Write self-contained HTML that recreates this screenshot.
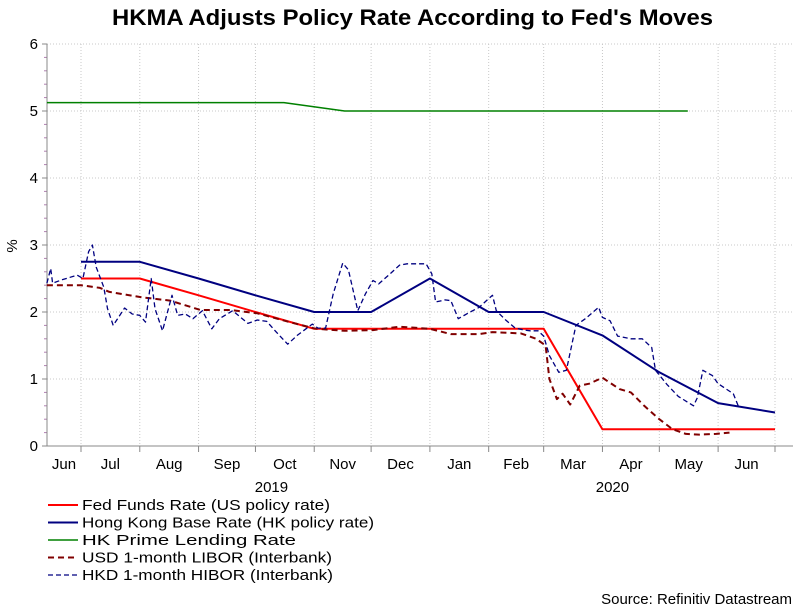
<!DOCTYPE html>
<html><head><meta charset="utf-8"><style>
body{margin:0;background:#fff;width:812px;height:608px;overflow:hidden}
svg{font-family:"Liberation Sans",Arial,sans-serif}
</style></head><body>
<svg id="c" width="812" height="608">
<text x="112" y="25" textLength="601" lengthAdjust="spacingAndGlyphs" font-size="22" font-weight="bold">HKMA Adjusts Policy Rate According to Fed's Moves</text>
<text x="0" y="0" transform="translate(17,246) rotate(-90)" text-anchor="middle" font-size="15">%</text>
<g id="grid"></g><g id="axes"></g><g id="series"></g><g id="legend"></g>
<text x="792" y="604" text-anchor="end" font-size="15">Source: Refinitiv Datastream</text>
</svg>
<script>
// days since 2019-07-01
const monthDays=[0,31,62,92,123,153,184,215,244,275,305,336,366];
const monthLabels=["Jun","Jul","Aug","Sep","Oct","Nov","Dec","Jan","Feb","Mar","Apr","May","Jun"];
const yTicks=[0,1,2,3,4,5,6];
const fedDays=[0,31,62,92,123,153,184,215,244,275,305,336,366];
const fedVals=[2.5,2.5,2.25,2.0,1.75,1.75,1.75,1.75,1.75,0.25,0.25,0.25,0.25];
const hkBaseDays=[0,31,62,92,123,153,184,215,244,275,305,336,366];
const hkBaseVals=[2.75,2.75,2.5,2.25,2.0,2.0,2.5,2.0,2.0,1.65,1.1,0.64,0.5];
const primeDays=[-18,107,139,320];
const primeVals=[5.125,5.125,5.0,5.0];
const liborDays=[-18,0,10,15,32,47,63,79,93,110,124,139,154,168,184,195,210,217,232,240,245,247,251,254,258,263,268,275,284,290,297,305,312,319,326,335,342];
const liborVals=[2.4,2.4,2.36,2.3,2.22,2.17,2.03,2.03,1.98,1.85,1.75,1.72,1.73,1.78,1.75,1.67,1.67,1.7,1.68,1.6,1.5,1.0,0.7,0.78,0.62,0.9,0.93,1.02,0.85,0.8,0.6,0.4,0.25,0.18,0.17,0.18,0.2];
const hiborDays=[-18,-16,-15,-10,-2,1,4,6,8,12,14,17,23,27,31,34,37,39,43,48,51,55,59,64,69,73,80,88,93,98,103,109,114,122,125,129,133,138,141,146,150,154,157,163,168,172,182,185,187,192,195,199,204,210,215,217,219,224,229,234,237,241,244,247,252,256,261,266,273,275,279,283,290,296,301,303,309,315,323,325,328,333,336,344,347];
const hiborVals=[2.43,2.65,2.43,2.48,2.55,2.5,2.9,3.0,2.67,2.37,2.05,1.8,2.06,1.97,1.95,1.85,2.5,2.05,1.72,2.25,1.95,1.97,1.9,2.02,1.75,1.9,2.02,1.83,1.88,1.86,1.7,1.52,1.65,1.82,1.76,1.76,2.27,2.73,2.63,2.02,2.27,2.47,2.42,2.57,2.7,2.72,2.72,2.57,2.15,2.18,2.17,1.9,1.98,2.07,2.2,2.25,2.02,1.88,1.76,1.73,1.72,1.72,1.64,1.35,1.1,1.13,1.8,1.9,2.07,1.92,1.87,1.64,1.6,1.6,1.47,1.13,0.92,0.74,0.6,0.72,1.13,1.05,0.93,0.78,0.57];

const X0=47,X1=793,Y0=446,Y6=44;
const xs=d=>81+d*(694/366);
const ys=v=>Y0-v*(Y0-Y6)/6;
const NS="http://www.w3.org/2000/svg";
function mk(tag,attrs,parent){const e=document.createElementNS(NS,tag);for(const k in attrs)e.setAttribute(k,attrs[k]);document.getElementById(parent).appendChild(e);return e;}
yTicks.forEach(v=>{if(v>0){const g=mk('line',{x1:X0,x2:X1,y1:ys(v),y2:ys(v),stroke:'#c8c8c8','stroke-dasharray':'1,2'},'grid');

}
const t=mk('text',{x:38,y:ys(v)+5,'text-anchor':'end','font-size':15},'axes');t.textContent=v;


for(let m=1;m<5&&v<6;m++){const mt=mk('line',{x1:X0-3,x2:X0,y1:ys(v+m*0.2),y2:ys(v+m*0.2),stroke:'#b080b0'},'axes');

}
const tk=mk('line',{x1:X0-5,x2:X0,y1:ys(v),y2:ys(v),stroke:'#888'},'axes');

});
monthDays.forEach(d=>{const x=xs(d);const g=mk('line',{x1:x,x2:x,y1:Y6,y2:Y0,stroke:'#c8c8c8','stroke-dasharray':'1,2'},'grid');


const t=mk('line',{x1:x,x2:x,y1:Y0,y2:Y0+6,stroke:'#888'},'axes');

});
monthLabels.forEach((l,i)=>{
const x=i==0?(X0+xs(0))/2:(xs(monthDays[i-1])+xs(monthDays[i]))/2;
const t=mk('text',{x:x,y:469,'text-anchor':'middle','font-size':15},'axes');t.textContent=l;

});
[["2019",xs(92)+16],["2020",xs(275)+10]].forEach(([l,x])=>{const t=mk('text',{x:x,y:492,'text-anchor':'middle','font-size':15},'axes');t.textContent=l;

});
const ax=mk('line',{x1:X0,x2:X0,y1:Y6,y2:Y0,stroke:'#888'},'axes');


const ax2=mk('line',{x1:X0,x2:X1,y1:Y0,y2:Y0,stroke:'#888'},'axes');


const series=[
 {n:'Fed Funds Rate (US policy rate)',d:fedDays,v:fedVals,c:'#ff0000',w:2,da:'',id:'fed-funds-line',tl:248},
 {n:'Hong Kong Base Rate (HK policy rate)',d:hkBaseDays,v:hkBaseVals,c:'#000080',w:2,da:'',id:'hk-base-rate-line',tl:292},
 {n:'HK Prime Lending Rate',d:primeDays,v:primeVals,c:'#008000',w:1.5,da:'',id:'hk-prime-line',tl:214},
 {n:'USD 1-month LIBOR (Interbank)',d:liborDays,v:liborVals,c:'#800000',w:2,da:'6,4',id:'usd-libor-line',tl:250},
 {n:'HKD 1-month HIBOR (Interbank)',d:hiborDays,v:hiborVals,c:'#000080',w:1.3,da:'5,3',id:'hkd-hibor-line',tl:251}];
series.forEach((s,i)=>{const pts=s.d.map((d,j)=>xs(Math.max(d,-18)).toFixed(1)+','+ys(s.v[j]).toFixed(1)).join(' ');
const p=mk('polyline',{points:pts,fill:'none',stroke:s.c,'stroke-width':s.w,'stroke-dasharray':s.da,'stroke-linejoin':'round'},'series');


const y=505+i*17.5;
const l=mk('line',{x1:48,x2:78,y1:y,y2:y,stroke:s.c,'stroke-width':s.w,'stroke-dasharray':s.da},'legend');


const t=mk('text',{x:82,y:y+5,'font-size':15,textLength:s.tl,lengthAdjust:'spacingAndGlyphs'},'legend');t.textContent=s.n;

});
</script>
</body></html>
